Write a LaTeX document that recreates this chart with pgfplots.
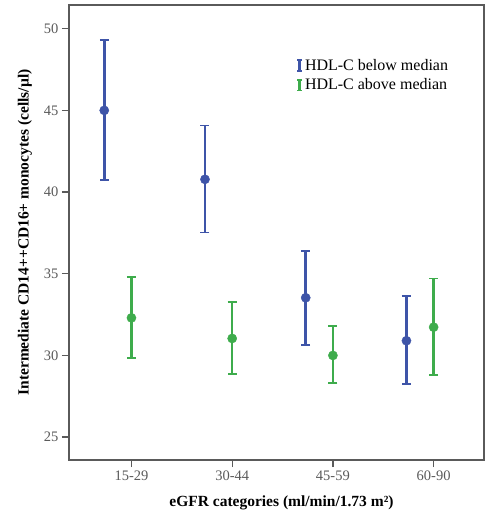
\documentclass[border=0pt]{standalone}
\usepackage{pgfplots}
\pgfplotsset{compat=1.18}
\usepackage{fontspec}
\setmainfont{Liberation Serif}
\definecolor{cblue}{RGB}{62,84,168}
\definecolor{cgreen}{RGB}{62,172,76}
\definecolor{spine}{RGB}{90,90,90}
\begin{document}
\begin{tikzpicture}
\begin{axis}[
  scale only axis, width=415pt, height=455pt,
  xmin=-0.62, xmax=3.5, ymin=23.6, ymax=51.45,
  xtick={0,1,2,3}, xticklabels={15-29,30-44,45-59,60-90},
  ytick={25,30,35,40,45,50},
  tick align=outside, major tick length=7pt,
  axis line style={spine, line width=1.3pt},
  tick style={spine, line width=1.3pt},
  xtick pos=bottom, ytick pos=left,
  /pgf/number format/assume math mode=true,
  tick label style={font=\rmfamily\fontsize{14.5}{16}\selectfont, text=spine},
  xlabel={\textbf{eGFR categories (ml/min/1.73 m²)}},
  ylabel={\textbf{Intermediate CD14++CD16+ monocytes (cells/µl)}},
  label style={font=\rmfamily\fontsize{15.5}{17}\selectfont},
  xlabel style={at={(axis description cs:0.5,0)}, anchor=center, yshift=-43pt, xshift=5pt},
  ylabel style={at={(axis description cs:0,0.5)}, anchor=center, rotate=0, yshift=44pt},
  legend style={draw=none, fill=none, at={(0.54,0.89)}, anchor=north west,
    font=\rmfamily\fontsize{16}{18}\selectfont, row sep=3pt},
  legend cell align=left,
  legend image code/.code={
    \draw[line width=2.6pt] (0.2cm,-0.19cm) -- (0.2cm,0.19cm);
    \draw[line width=1.6pt] (0.11cm,-0.19cm) -- (0.29cm,-0.19cm);
    \draw[line width=1.6pt] (0.11cm,0.19cm) -- (0.29cm,0.19cm);
  },
]
\addplot[cblue, only marks, mark=*, mark size=4.6pt,
  error bars/.cd, y dir=both, y explicit,
  error bar style={line width=2.6pt, cblue},
  error mark options={rotate=90, mark size=4.5pt, line width=1.8pt, cblue}]
  table[x=x, y=y, y error plus=ep, y error minus=em] {
x y ep em
-0.27 45.0 4.33 4.27
0.73 40.78 3.30 3.25
1.73 33.53 2.88 2.87
2.73 30.90 2.73 2.64
};
\addlegendentry{HDL-C below median}
\addplot[cgreen, only marks, mark=*, mark size=4.6pt,
  error bars/.cd, y dir=both, y explicit,
  error bar style={line width=2.6pt, cgreen},
  error mark options={rotate=90, mark size=4.5pt, line width=1.8pt, cgreen}]
  table[x=x, y=y, y error plus=ep, y error minus=em] {
x y ep em
0 32.30 2.50 2.46
1 31.04 2.24 2.16
2 30.00 1.78 1.70
3 31.73 2.98 2.91
};
\addlegendentry{HDL-C above median}
\end{axis}
\path[use as bounding box] ([shift={(-69pt,-59pt)}]current axis.south west) rectangle ([shift={(2pt,5pt)}]current axis.north east);
\end{tikzpicture}
\end{document}
